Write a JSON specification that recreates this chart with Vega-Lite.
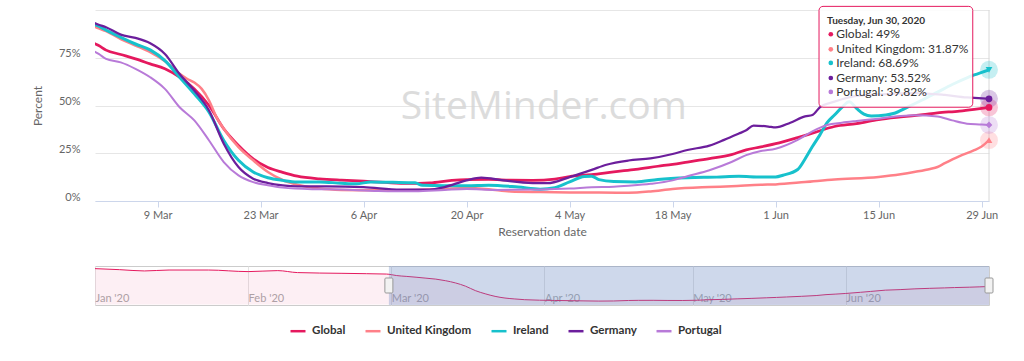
{
  "$schema": "https://vega.github.io/schema/vega-lite/v6.json",
  "background": "white",
  "padding": {"left": 31, "top": 5, "right": 5, "bottom": 5},
  "spacing": 28,
  "config": {
    "font": "Lato",
    "view": {"stroke": null},
    "axis": {"labelFont": "Lato", "titleFont": "Lato"},
    "legend": {"labelFont": "Lato"}
  },
  "datasets": {
    "main": [
      {"s": "Global", "d": "2020-01-01", "v": 97.8},
      {"s": "Global", "d": "2020-01-06", "v": 95},
      {"s": "Global", "d": "2020-01-11", "v": 91.5},
      {"s": "Global", "d": "2020-01-16", "v": 94},
      {"s": "Global", "d": "2020-01-24", "v": 94},
      {"s": "Global", "d": "2020-02-01", "v": 89.7},
      {"s": "Global", "d": "2020-02-07", "v": 92.4},
      {"s": "Global", "d": "2020-02-11", "v": 87},
      {"s": "Global", "d": "2020-02-20", "v": 85},
      {"s": "Global", "d": "2020-02-25", "v": 84},
      {"s": "Global", "d": "2020-02-29", "v": 83},
      {"s": "Global", "d": "2020-03-01", "v": 81.4},
      {"s": "Global", "d": "2020-03-02", "v": 79},
      {"s": "Global", "d": "2020-03-04", "v": 76.7},
      {"s": "Global", "d": "2020-03-06", "v": 74.4},
      {"s": "Global", "d": "2020-03-08", "v": 71.8},
      {"s": "Global", "d": "2020-03-10", "v": 69.2},
      {"s": "Global", "d": "2020-03-12", "v": 64.8},
      {"s": "Global", "d": "2020-03-14", "v": 58.7},
      {"s": "Global", "d": "2020-03-16", "v": 50},
      {"s": "Global", "d": "2020-03-18", "v": 37.8},
      {"s": "Global", "d": "2020-03-20", "v": 29.1},
      {"s": "Global", "d": "2020-03-22", "v": 22.1},
      {"s": "Global", "d": "2020-03-24", "v": 17.5},
      {"s": "Global", "d": "2020-03-26", "v": 15},
      {"s": "Global", "d": "2020-03-28", "v": 13},
      {"s": "Global", "d": "2020-03-31", "v": 11.6},
      {"s": "Global", "d": "2020-04-03", "v": 10.9},
      {"s": "Global", "d": "2020-04-06", "v": 10.4},
      {"s": "Global", "d": "2020-04-09", "v": 9.7},
      {"s": "Global", "d": "2020-04-12", "v": 9.2},
      {"s": "Global", "d": "2020-04-15", "v": 9.5},
      {"s": "Global", "d": "2020-04-18", "v": 10.8},
      {"s": "Global", "d": "2020-04-20", "v": 11.2},
      {"s": "Global", "d": "2020-04-23", "v": 11.3},
      {"s": "Global", "d": "2020-04-26", "v": 10.9},
      {"s": "Global", "d": "2020-04-29", "v": 10.8},
      {"s": "Global", "d": "2020-05-02", "v": 11.5},
      {"s": "Global", "d": "2020-05-04", "v": 12.8},
      {"s": "Global", "d": "2020-05-07", "v": 13.8},
      {"s": "Global", "d": "2020-05-10", "v": 15.3},
      {"s": "Global", "d": "2020-05-13", "v": 16.6},
      {"s": "Global", "d": "2020-05-16", "v": 18.2},
      {"s": "Global", "d": "2020-05-18", "v": 19.2},
      {"s": "Global", "d": "2020-05-20", "v": 20.4},
      {"s": "Global", "d": "2020-05-23", "v": 22.2},
      {"s": "Global", "d": "2020-05-26", "v": 24.3},
      {"s": "Global", "d": "2020-05-28", "v": 26.8},
      {"s": "Global", "d": "2020-05-30", "v": 28.3},
      {"s": "Global", "d": "2020-06-01", "v": 30},
      {"s": "Global", "d": "2020-06-04", "v": 33.2},
      {"s": "Global", "d": "2020-06-06", "v": 35.5},
      {"s": "Global", "d": "2020-06-09", "v": 39},
      {"s": "Global", "d": "2020-06-12", "v": 40.5},
      {"s": "Global", "d": "2020-06-15", "v": 42.6},
      {"s": "Global", "d": "2020-06-18", "v": 44},
      {"s": "Global", "d": "2020-06-21", "v": 45.2},
      {"s": "Global", "d": "2020-06-23", "v": 46.1},
      {"s": "Global", "d": "2020-06-26", "v": 47.1},
      {"s": "Global", "d": "2020-06-28", "v": 48},
      {"s": "Global", "d": "2020-06-30", "v": 49},

      {"s": "United Kingdom", "d": "2020-02-29", "v": 92},
      {"s": "United Kingdom", "d": "2020-03-01", "v": 90.4},
      {"s": "United Kingdom", "d": "2020-03-02", "v": 88.9},
      {"s": "United Kingdom", "d": "2020-03-04", "v": 84.8},
      {"s": "United Kingdom", "d": "2020-03-06", "v": 81.4},
      {"s": "United Kingdom", "d": "2020-03-08", "v": 77.9},
      {"s": "United Kingdom", "d": "2020-03-10", "v": 73.2},
      {"s": "United Kingdom", "d": "2020-03-12", "v": 66.6},
      {"s": "United Kingdom", "d": "2020-03-13", "v": 64},
      {"s": "United Kingdom", "d": "2020-03-14", "v": 62},
      {"s": "United Kingdom", "d": "2020-03-15", "v": 58.7},
      {"s": "United Kingdom", "d": "2020-03-16", "v": 52.6},
      {"s": "United Kingdom", "d": "2020-03-17", "v": 43.9},
      {"s": "United Kingdom", "d": "2020-03-18", "v": 37.8},
      {"s": "United Kingdom", "d": "2020-03-20", "v": 28.2},
      {"s": "United Kingdom", "d": "2020-03-22", "v": 21.3},
      {"s": "United Kingdom", "d": "2020-03-24", "v": 15.2},
      {"s": "United Kingdom", "d": "2020-03-26", "v": 11},
      {"s": "United Kingdom", "d": "2020-03-28", "v": 8.5},
      {"s": "United Kingdom", "d": "2020-03-31", "v": 6.5},
      {"s": "United Kingdom", "d": "2020-04-03", "v": 5.8},
      {"s": "United Kingdom", "d": "2020-04-08", "v": 5.6},
      {"s": "United Kingdom", "d": "2020-04-13", "v": 5.8},
      {"s": "United Kingdom", "d": "2020-04-17", "v": 6.3},
      {"s": "United Kingdom", "d": "2020-04-20", "v": 6.8},
      {"s": "United Kingdom", "d": "2020-04-23", "v": 6.2},
      {"s": "United Kingdom", "d": "2020-04-26", "v": 5},
      {"s": "United Kingdom", "d": "2020-04-30", "v": 4.7},
      {"s": "United Kingdom", "d": "2020-05-04", "v": 4.5},
      {"s": "United Kingdom", "d": "2020-05-08", "v": 4.4},
      {"s": "United Kingdom", "d": "2020-05-12", "v": 4.3},
      {"s": "United Kingdom", "d": "2020-05-15", "v": 5},
      {"s": "United Kingdom", "d": "2020-05-18", "v": 6.3},
      {"s": "United Kingdom", "d": "2020-05-23", "v": 7.3},
      {"s": "United Kingdom", "d": "2020-05-26", "v": 7.7},
      {"s": "United Kingdom", "d": "2020-05-30", "v": 8.5},
      {"s": "United Kingdom", "d": "2020-06-01", "v": 8.7},
      {"s": "United Kingdom", "d": "2020-06-05", "v": 9.9},
      {"s": "United Kingdom", "d": "2020-06-09", "v": 11.2},
      {"s": "United Kingdom", "d": "2020-06-15", "v": 12.6},
      {"s": "United Kingdom", "d": "2020-06-18", "v": 14},
      {"s": "United Kingdom", "d": "2020-06-20", "v": 15.3},
      {"s": "United Kingdom", "d": "2020-06-22", "v": 16.8},
      {"s": "United Kingdom", "d": "2020-06-23", "v": 17.8},
      {"s": "United Kingdom", "d": "2020-06-24", "v": 19.8},
      {"s": "United Kingdom", "d": "2020-06-26", "v": 23.5},
      {"s": "United Kingdom", "d": "2020-06-28", "v": 26.6},
      {"s": "United Kingdom", "d": "2020-06-29", "v": 28.5},
      {"s": "United Kingdom", "d": "2020-06-30", "v": 31.87},

      {"s": "Ireland", "d": "2020-02-29", "v": 93},
      {"s": "Ireland", "d": "2020-03-01", "v": 91.5},
      {"s": "Ireland", "d": "2020-03-02", "v": 89.5},
      {"s": "Ireland", "d": "2020-03-04", "v": 85.7},
      {"s": "Ireland", "d": "2020-03-06", "v": 82.2},
      {"s": "Ireland", "d": "2020-03-08", "v": 79.1},
      {"s": "Ireland", "d": "2020-03-10", "v": 73.5},
      {"s": "Ireland", "d": "2020-03-12", "v": 64.8},
      {"s": "Ireland", "d": "2020-03-14", "v": 56.1},
      {"s": "Ireland", "d": "2020-03-16", "v": 46.5},
      {"s": "Ireland", "d": "2020-03-18", "v": 31.7},
      {"s": "Ireland", "d": "2020-03-20", "v": 21.3},
      {"s": "Ireland", "d": "2020-03-22", "v": 15.2},
      {"s": "Ireland", "d": "2020-03-24", "v": 12.2},
      {"s": "Ireland", "d": "2020-03-26", "v": 10.8},
      {"s": "Ireland", "d": "2020-03-28", "v": 10},
      {"s": "Ireland", "d": "2020-03-31", "v": 10},
      {"s": "Ireland", "d": "2020-04-03", "v": 9.3},
      {"s": "Ireland", "d": "2020-04-05", "v": 9},
      {"s": "Ireland", "d": "2020-04-07", "v": 10},
      {"s": "Ireland", "d": "2020-04-10", "v": 9.8},
      {"s": "Ireland", "d": "2020-04-13", "v": 9.5},
      {"s": "Ireland", "d": "2020-04-14", "v": 8.2},
      {"s": "Ireland", "d": "2020-04-17", "v": 8},
      {"s": "Ireland", "d": "2020-04-20", "v": 8},
      {"s": "Ireland", "d": "2020-04-23", "v": 8.3},
      {"s": "Ireland", "d": "2020-04-27", "v": 7.3},
      {"s": "Ireland", "d": "2020-04-30", "v": 6.2},
      {"s": "Ireland", "d": "2020-05-02", "v": 7},
      {"s": "Ireland", "d": "2020-05-04", "v": 10},
      {"s": "Ireland", "d": "2020-05-06", "v": 12.8},
      {"s": "Ireland", "d": "2020-05-07", "v": 13},
      {"s": "Ireland", "d": "2020-05-08", "v": 11.2},
      {"s": "Ireland", "d": "2020-05-10", "v": 10.2},
      {"s": "Ireland", "d": "2020-05-13", "v": 10},
      {"s": "Ireland", "d": "2020-05-16", "v": 11.3},
      {"s": "Ireland", "d": "2020-05-20", "v": 12.2},
      {"s": "Ireland", "d": "2020-05-24", "v": 12.5},
      {"s": "Ireland", "d": "2020-05-27", "v": 12.9},
      {"s": "Ireland", "d": "2020-05-30", "v": 12.6},
      {"s": "Ireland", "d": "2020-06-01", "v": 12.6},
      {"s": "Ireland", "d": "2020-06-02", "v": 13.5},
      {"s": "Ireland", "d": "2020-06-04", "v": 16.5},
      {"s": "Ireland", "d": "2020-06-05", "v": 22},
      {"s": "Ireland", "d": "2020-06-06", "v": 28.5},
      {"s": "Ireland", "d": "2020-06-07", "v": 34.5},
      {"s": "Ireland", "d": "2020-06-08", "v": 41},
      {"s": "Ireland", "d": "2020-06-09", "v": 45},
      {"s": "Ireland", "d": "2020-06-10", "v": 49},
      {"s": "Ireland", "d": "2020-06-11", "v": 52},
      {"s": "Ireland", "d": "2020-06-12", "v": 48.5},
      {"s": "Ireland", "d": "2020-06-13", "v": 45.5},
      {"s": "Ireland", "d": "2020-06-14", "v": 44.5},
      {"s": "Ireland", "d": "2020-06-16", "v": 45},
      {"s": "Ireland", "d": "2020-06-17", "v": 45.8},
      {"s": "Ireland", "d": "2020-06-19", "v": 49.3},
      {"s": "Ireland", "d": "2020-06-21", "v": 53},
      {"s": "Ireland", "d": "2020-06-23", "v": 57},
      {"s": "Ireland", "d": "2020-06-25", "v": 61},
      {"s": "Ireland", "d": "2020-06-27", "v": 64.5},
      {"s": "Ireland", "d": "2020-06-28", "v": 66},
      {"s": "Ireland", "d": "2020-06-30", "v": 68.69},

      {"s": "Germany", "d": "2020-02-29", "v": 94},
      {"s": "Germany", "d": "2020-03-01", "v": 92.3},
      {"s": "Germany", "d": "2020-03-02", "v": 91},
      {"s": "Germany", "d": "2020-03-04", "v": 87.1},
      {"s": "Germany", "d": "2020-03-06", "v": 85.4},
      {"s": "Germany", "d": "2020-03-08", "v": 82.6},
      {"s": "Germany", "d": "2020-03-10", "v": 77},
      {"s": "Germany", "d": "2020-03-12", "v": 66.5},
      {"s": "Germany", "d": "2020-03-14", "v": 57.8},
      {"s": "Germany", "d": "2020-03-16", "v": 47.4},
      {"s": "Germany", "d": "2020-03-18", "v": 30},
      {"s": "Germany", "d": "2020-03-20", "v": 17.8},
      {"s": "Germany", "d": "2020-03-22", "v": 11.7},
      {"s": "Germany", "d": "2020-03-24", "v": 9.4},
      {"s": "Germany", "d": "2020-03-26", "v": 8.2},
      {"s": "Germany", "d": "2020-03-28", "v": 7.7},
      {"s": "Germany", "d": "2020-04-01", "v": 7.7},
      {"s": "Germany", "d": "2020-04-06", "v": 7.3},
      {"s": "Germany", "d": "2020-04-11", "v": 5.9},
      {"s": "Germany", "d": "2020-04-15", "v": 6},
      {"s": "Germany", "d": "2020-04-17", "v": 7.3},
      {"s": "Germany", "d": "2020-04-20", "v": 10.8},
      {"s": "Germany", "d": "2020-04-22", "v": 12.2},
      {"s": "Germany", "d": "2020-04-25", "v": 10.8},
      {"s": "Germany", "d": "2020-04-29", "v": 9.4},
      {"s": "Germany", "d": "2020-05-01", "v": 9.3},
      {"s": "Germany", "d": "2020-05-04", "v": 12.5},
      {"s": "Germany", "d": "2020-05-07", "v": 16.3},
      {"s": "Germany", "d": "2020-05-09", "v": 19},
      {"s": "Germany", "d": "2020-05-12", "v": 21.2},
      {"s": "Germany", "d": "2020-05-15", "v": 22.3},
      {"s": "Germany", "d": "2020-05-18", "v": 24.6},
      {"s": "Germany", "d": "2020-05-20", "v": 26.7},
      {"s": "Germany", "d": "2020-05-23", "v": 29},
      {"s": "Germany", "d": "2020-05-25", "v": 32},
      {"s": "Germany", "d": "2020-05-27", "v": 35.3},
      {"s": "Germany", "d": "2020-05-28", "v": 37},
      {"s": "Germany", "d": "2020-05-29", "v": 39.5},
      {"s": "Germany", "d": "2020-05-31", "v": 39},
      {"s": "Germany", "d": "2020-06-01", "v": 38.5},
      {"s": "Germany", "d": "2020-06-03", "v": 41},
      {"s": "Germany", "d": "2020-06-05", "v": 44.3},
      {"s": "Germany", "d": "2020-06-06", "v": 45},
      {"s": "Germany", "d": "2020-06-07", "v": 49},
      {"s": "Germany", "d": "2020-06-09", "v": 52},
      {"s": "Germany", "d": "2020-06-12", "v": 55},
      {"s": "Germany", "d": "2020-06-16", "v": 56},
      {"s": "Germany", "d": "2020-06-20", "v": 56.5},
      {"s": "Germany", "d": "2020-06-24", "v": 55.5},
      {"s": "Germany", "d": "2020-06-27", "v": 54.2},
      {"s": "Germany", "d": "2020-06-28", "v": 54},
      {"s": "Germany", "d": "2020-06-30", "v": 53.52},

      {"s": "Portugal", "d": "2020-02-29", "v": 79},
      {"s": "Portugal", "d": "2020-03-01", "v": 77},
      {"s": "Portugal", "d": "2020-03-02", "v": 74.4},
      {"s": "Portugal", "d": "2020-03-04", "v": 72.6},
      {"s": "Portugal", "d": "2020-03-06", "v": 69.2},
      {"s": "Portugal", "d": "2020-03-08", "v": 64.8},
      {"s": "Portugal", "d": "2020-03-10", "v": 58.7},
      {"s": "Portugal", "d": "2020-03-12", "v": 49.1},
      {"s": "Portugal", "d": "2020-03-14", "v": 42.2},
      {"s": "Portugal", "d": "2020-03-16", "v": 31.7},
      {"s": "Portugal", "d": "2020-03-18", "v": 20.4},
      {"s": "Portugal", "d": "2020-03-20", "v": 13.4},
      {"s": "Portugal", "d": "2020-03-22", "v": 9.9},
      {"s": "Portugal", "d": "2020-03-24", "v": 8.2},
      {"s": "Portugal", "d": "2020-03-26", "v": 7},
      {"s": "Portugal", "d": "2020-03-30", "v": 6.2},
      {"s": "Portugal", "d": "2020-04-03", "v": 6},
      {"s": "Portugal", "d": "2020-04-08", "v": 5.2},
      {"s": "Portugal", "d": "2020-04-13", "v": 5.1},
      {"s": "Portugal", "d": "2020-04-17", "v": 5.8},
      {"s": "Portugal", "d": "2020-04-20", "v": 6.3},
      {"s": "Portugal", "d": "2020-04-24", "v": 5.8},
      {"s": "Portugal", "d": "2020-04-30", "v": 6},
      {"s": "Portugal", "d": "2020-05-04", "v": 6.5},
      {"s": "Portugal", "d": "2020-05-07", "v": 7.2},
      {"s": "Portugal", "d": "2020-05-10", "v": 7.5},
      {"s": "Portugal", "d": "2020-05-12", "v": 8},
      {"s": "Portugal", "d": "2020-05-15", "v": 9},
      {"s": "Portugal", "d": "2020-05-18", "v": 10.8},
      {"s": "Portugal", "d": "2020-05-20", "v": 13},
      {"s": "Portugal", "d": "2020-05-23", "v": 16.1},
      {"s": "Portugal", "d": "2020-05-26", "v": 20.4},
      {"s": "Portugal", "d": "2020-05-28", "v": 24},
      {"s": "Portugal", "d": "2020-05-30", "v": 26.2},
      {"s": "Portugal", "d": "2020-06-01", "v": 27.4},
      {"s": "Portugal", "d": "2020-06-04", "v": 32},
      {"s": "Portugal", "d": "2020-06-06", "v": 36.5},
      {"s": "Portugal", "d": "2020-06-08", "v": 39.8},
      {"s": "Portugal", "d": "2020-06-10", "v": 41},
      {"s": "Portugal", "d": "2020-06-12", "v": 41.9},
      {"s": "Portugal", "d": "2020-06-15", "v": 43.1},
      {"s": "Portugal", "d": "2020-06-18", "v": 44.5},
      {"s": "Portugal", "d": "2020-06-20", "v": 44.9},
      {"s": "Portugal", "d": "2020-06-23", "v": 44.3},
      {"s": "Portugal", "d": "2020-06-25", "v": 42.2},
      {"s": "Portugal", "d": "2020-06-27", "v": 40.5},
      {"s": "Portugal", "d": "2020-06-29", "v": 40.1},
      {"s": "Portugal", "d": "2020-06-30", "v": 39.82}
    ],
    "end": [
      {"s": "Global", "d": "2020-06-30", "v": 49},
      {"s": "United Kingdom", "d": "2020-06-30", "v": 31.87},
      {"s": "Ireland", "d": "2020-06-30", "v": 68.69},
      {"s": "Germany", "d": "2020-06-30", "v": 53.52},
      {"s": "Portugal", "d": "2020-06-30", "v": 39.82}
    ],
    "tip": [
      {"k": 0, "s": "", "t": "Tuesday, Jun 30, 2020"},
      {"k": 1, "s": "Global", "t": "Global: 49%"},
      {"k": 2, "s": "United Kingdom", "t": "United Kingdom: 31.87%"},
      {"k": 3, "s": "Ireland", "t": "Ireland: 68.69%"},
      {"k": 4, "s": "Germany", "t": "Germany: 53.52%"},
      {"k": 5, "s": "Portugal", "t": "Portugal: 39.82%"}
    ],
    "range": [
      {"d": "2020-02-29T12:00:00Z"},
      {"d": "2020-06-30T00:00:00Z"}
    ]
  },
  "vconcat": [
    {
      "width": 894,
      "height": 191,
      "view": {"stroke": null},
      "layer": [
        {
          "data": {"name": "main"},
          "mark": {"type": "line", "interpolate": "monotone", "clip": true},
          "encoding": {
            "x": {
              "field": "d", "type": "temporal",
              "scale": {"type": "utc", "domain": [{"year": 2020, "month": 2, "date": 29, "hours": 12, "utc": true}, {"year": 2020, "month": 6, "date": 30, "utc": true}]},
              "axis": {
                "title": "Reservation date", "titleColor": "#666666", "titleFontSize": 12, "titleFontWeight": "normal", "titlePadding": 6,
                "labelExpr": "utcFormat(datum.value, '%-d %b')",
                "values": [
                  {"year": 2020, "month": 3, "date": 9, "utc": true},
                  {"year": 2020, "month": 3, "date": 23, "utc": true},
                  {"year": 2020, "month": 4, "date": 6, "utc": true},
                  {"year": 2020, "month": 4, "date": 20, "utc": true},
                  {"year": 2020, "month": 5, "date": 4, "utc": true},
                  {"year": 2020, "month": 5, "date": 18, "utc": true},
                  {"year": 2020, "month": 6, "date": 1, "utc": true},
                  {"year": 2020, "month": 6, "date": 15, "utc": true},
                  {"year": 2020, "month": 6, "date": 29, "utc": true}
                ],
                "labelColor": "#666666", "labelFontSize": 11, "labelPadding": 2,
                "domainColor": "#ccd6eb", "tickColor": "#ccd6eb", "tickSize": 6, "grid": false
              }
            },
            "y": {
              "field": "v", "type": "quantitative",
              "scale": {"domain": [0, 100], "nice": false},
              "axis": {
                "title": "Percent", "titleColor": "#666666", "titleFontSize": 12, "titleFontWeight": "normal", "titlePadding": 14,
                "values": [0, 25, 50, 75, 100],
                "labelExpr": "datum.value == 100 ? '' : datum.value + '%'",
                "labelColor": "#666666", "labelFontSize": 11, "labelPadding": 15,
                "labelBaseline": "alphabetic", "labelOffset": -1,
                "domain": false, "ticks": false, "grid": true, "gridColor": "#e6e6e6"
              }
            },
            "color": {
              "field": "s", "type": "nominal",
              "scale": {"domain": ["Global", "United Kingdom", "Ireland", "Germany", "Portugal"], "range": ["#e5195e", "#ff8088", "#17c1cc", "#6c1e9c", "#b87ad8"]},
              "legend": {
                "orient": "none", "legendX": 194, "legendY": 312, "direction": "horizontal", "title": null,
                "symbolType": "stroke", "symbolSize": 225, "symbolStrokeWidth": 2.5,
                "labelFontSize": 11.6, "labelFontWeight": "bold", "labelColor": "#333333", "labelOffset": 5, "columnPadding": 14
              }
            },
            "strokeWidth": {
              "field": "s", "type": "nominal",
              "scale": {"domain": ["Ireland", "Global", "United Kingdom", "Germany", "Portugal"], "range": [3, 2, 2, 2, 2]},
              "legend": null
            }
          }
        },
        {
          "data": {"values": [{}]},
          "mark": {"type": "rule", "color": "#d8d8d8", "strokeWidth": 1},
          "encoding": {"x": {"datum": {"year": 2020, "month": 6, "date": 30, "utc": true}, "type": "temporal"}}
        },
        {
          "data": {"values": [{}]},
          "mark": {"type": "text", "text": "SiteMinder.com", "font": "Open Sans", "fontSize": 39, "color": "#d4d4d4", "opacity": 0.8, "align": "center", "baseline": "middle"},
          "encoding": {
            "x": {"datum": {"year": 2020, "month": 4, "date": 30, "hours": 12, "utc": true}, "type": "temporal"},
            "y": {"datum": 49.2, "type": "quantitative"}
          }
        },
        {
          "data": {"name": "end"},
          "mark": {"type": "point", "filled": true, "size": 320, "opacity": 0.25, "shape": "circle"},
          "encoding": {
            "x": {"field": "d", "type": "temporal"},
            "y": {"field": "v", "type": "quantitative"},
            "fill": {
              "field": "s", "type": "nominal",
              "scale": {"domain": ["Portugal", "Germany", "Ireland", "United Kingdom", "Global"], "range": ["#b87ad8", "#6c1e9c", "#17c1cc", "#ff8088", "#e5195e"]},
              "legend": null
            }
          }
        },
        {
          "data": {"name": "end"},
          "mark": {"type": "point", "filled": true, "size": 45, "opacity": 1},
          "encoding": {
            "x": {"field": "d", "type": "temporal"},
            "y": {"field": "v", "type": "quantitative"},
            "fill": {"field": "s", "type": "nominal", "legend": null},
            "shape": {
              "field": "s", "type": "nominal",
              "scale": {"domain": ["United Kingdom", "Ireland", "Portugal", "Global", "Germany"], "range": ["triangle-up", "triangle-down", "diamond", "circle", "circle"]},
              "legend": null
            }
          }
        },
        {
          "data": {"values": [{}]},
          "mark": {"type": "rect", "fill": "#ffffff", "fillOpacity": 0.88, "stroke": "#e5195e", "strokeWidth": 1, "cornerRadius": 4},
          "encoding": {
            "x": {"datum": {"year": 2020, "month": 6, "date": 6, "hours": 21, "minutes": 36, "utc": true}, "type": "temporal"},
            "x2": {"datum": {"year": 2020, "month": 6, "date": 27, "hours": 19, "utc": true}},
            "y": {"datum": 101.9, "type": "quantitative"},
            "y2": {"datum": 49.1}
          }
        },
        {
          "data": {"name": "tip"},
          "transform": [{"filter": "datum.k == 0"}],
          "mark": {"type": "text", "align": "left", "baseline": "middle", "fontSize": 10, "fontWeight": "bold", "color": "#333333", "font": "Lato"},
          "encoding": {
            "x": {"datum": {"year": 2020, "month": 6, "date": 8, "hours": 0, "utc": true}, "type": "temporal"},
            "y": {"datum": 94.2, "type": "quantitative"},
            "text": {"field": "t", "type": "nominal"}
          }
        },
        {
          "data": {"name": "tip"},
          "transform": [{"filter": "datum.k == 1"}],
          "encoding": {"y": {"datum": 87.3, "type": "quantitative"}},
          "layer": [
            {"mark": {"type": "point", "filled": true, "size": 22, "opacity": 1, "shape": "circle"},
             "encoding": {"x": {"datum": {"year": 2020, "month": 6, "date": 8, "hours": 12, "utc": true}, "type": "temporal"}, "fill": {"field": "s", "type": "nominal", "legend": null}}},
            {"mark": {"type": "text", "align": "left", "baseline": "middle", "fontSize": 12, "color": "#333333", "font": "Lato"},
             "encoding": {"x": {"datum": {"year": 2020, "month": 6, "date": 9, "hours": 6, "utc": true}, "type": "temporal"}, "text": {"field": "t", "type": "nominal"}}}
          ]
        },
        {
          "data": {"name": "tip"},
          "transform": [{"filter": "datum.k == 2"}],
          "encoding": {"y": {"datum": 79.4, "type": "quantitative"}},
          "layer": [
            {"mark": {"type": "point", "filled": true, "size": 22, "opacity": 1, "shape": "circle"},
             "encoding": {"x": {"datum": {"year": 2020, "month": 6, "date": 8, "hours": 12, "utc": true}, "type": "temporal"}, "fill": {"field": "s", "type": "nominal", "legend": null}}},
            {"mark": {"type": "text", "align": "left", "baseline": "middle", "fontSize": 12, "color": "#333333", "font": "Lato"},
             "encoding": {"x": {"datum": {"year": 2020, "month": 6, "date": 9, "hours": 6, "utc": true}, "type": "temporal"}, "text": {"field": "t", "type": "nominal"}}}
          ]
        },
        {
          "data": {"name": "tip"},
          "transform": [{"filter": "datum.k == 3"}],
          "encoding": {"y": {"datum": 72.3, "type": "quantitative"}},
          "layer": [
            {"mark": {"type": "point", "filled": true, "size": 22, "opacity": 1, "shape": "circle"},
             "encoding": {"x": {"datum": {"year": 2020, "month": 6, "date": 8, "hours": 12, "utc": true}, "type": "temporal"}, "fill": {"field": "s", "type": "nominal", "legend": null}}},
            {"mark": {"type": "text", "align": "left", "baseline": "middle", "fontSize": 12, "color": "#333333", "font": "Lato"},
             "encoding": {"x": {"datum": {"year": 2020, "month": 6, "date": 9, "hours": 6, "utc": true}, "type": "temporal"}, "text": {"field": "t", "type": "nominal"}}}
          ]
        },
        {
          "data": {"name": "tip"},
          "transform": [{"filter": "datum.k == 4"}],
          "encoding": {"y": {"datum": 64.4, "type": "quantitative"}},
          "layer": [
            {"mark": {"type": "point", "filled": true, "size": 22, "opacity": 1, "shape": "circle"},
             "encoding": {"x": {"datum": {"year": 2020, "month": 6, "date": 8, "hours": 12, "utc": true}, "type": "temporal"}, "fill": {"field": "s", "type": "nominal", "legend": null}}},
            {"mark": {"type": "text", "align": "left", "baseline": "middle", "fontSize": 12, "color": "#333333", "font": "Lato"},
             "encoding": {"x": {"datum": {"year": 2020, "month": 6, "date": 9, "hours": 6, "utc": true}, "type": "temporal"}, "text": {"field": "t", "type": "nominal"}}}
          ]
        },
        {
          "data": {"name": "tip"},
          "transform": [{"filter": "datum.k == 5"}],
          "encoding": {"y": {"datum": 57.1, "type": "quantitative"}},
          "layer": [
            {"mark": {"type": "point", "filled": true, "size": 22, "opacity": 1, "shape": "circle"},
             "encoding": {"x": {"datum": {"year": 2020, "month": 6, "date": 8, "hours": 12, "utc": true}, "type": "temporal"}, "fill": {"field": "s", "type": "nominal", "legend": null}}},
            {"mark": {"type": "text", "align": "left", "baseline": "middle", "fontSize": 12, "color": "#333333", "font": "Lato"},
             "encoding": {"x": {"datum": {"year": 2020, "month": 6, "date": 9, "hours": 6, "utc": true}, "type": "temporal"}, "text": {"field": "t", "type": "nominal"}}}
          ]
        }
      ]
    },
    {
      "width": 894,
      "height": 39,
      "view": {"stroke": "#cccccc"},
      "layer": [
        {
          "data": {"name": "main"},
          "transform": [{"filter": "datum.s == 'Global'"}],
          "mark": {"type": "area", "interpolate": "monotone", "color": "#e5195e", "opacity": 0.07},
          "encoding": {
            "x": {
              "field": "d", "type": "temporal",
              "scale": {"type": "utc", "domain": [{"year": 2020, "month": 1, "date": 1, "utc": true}, {"year": 2020, "month": 6, "date": 30, "utc": true}]},
              "axis": {
                "title": null, "labelExpr": "utcFormat(datum.value, \"%b '%y\")",
                "values": [
                  {"year": 2020, "month": 1, "date": 1, "utc": true},
                  {"year": 2020, "month": 2, "date": 1, "utc": true},
                  {"year": 2020, "month": 3, "date": 1, "utc": true},
                  {"year": 2020, "month": 4, "date": 1, "utc": true},
                  {"year": 2020, "month": 5, "date": 1, "utc": true},
                  {"year": 2020, "month": 6, "date": 1, "utc": true}
                ],
                "labelAlign": "left", "labelBaseline": "alphabetic", "labelPadding": -4, "labelDx": 3,
                "labelColor": "#aaaaaa", "labelFontSize": 11,
                "domain": false, "ticks": false, "tickSize": 0, "grid": true, "gridColor": "#e3e3e3"
              }
            },
            "y": {"field": "v", "type": "quantitative", "scale": {"domain": [-1.5, 105], "nice": false, "zero": false}, "axis": null}
          }
        },
        {
          "data": {"name": "main"},
          "transform": [{"filter": "datum.s == 'Global'"}],
          "mark": {"type": "line", "interpolate": "monotone", "color": "#e5195e", "strokeWidth": 1},
          "encoding": {
            "x": {"field": "d", "type": "temporal"},
            "y": {"field": "v", "type": "quantitative"}
          }
        },
        {
          "data": {"values": [{}]},
          "mark": {"type": "rect", "color": "#6685c2", "opacity": 0.32},
          "encoding": {
            "x": {"datum": {"year": 2020, "month": 2, "date": 29, "hours": 12, "utc": true}, "type": "temporal"},
            "x2": {"datum": {"year": 2020, "month": 6, "date": 30, "utc": true}}
          }
        },
        {
          "data": {"name": "range"},
          "mark": {"type": "rect", "width": 8, "height": 15, "fill": "#f2f2f2", "stroke": "#999999", "strokeWidth": 1, "cornerRadius": 1},
          "encoding": {
            "x": {"field": "d", "type": "temporal"},
            "y": {"datum": 51.75, "type": "quantitative"}
          }
        }
      ]
    }
  ]
}
